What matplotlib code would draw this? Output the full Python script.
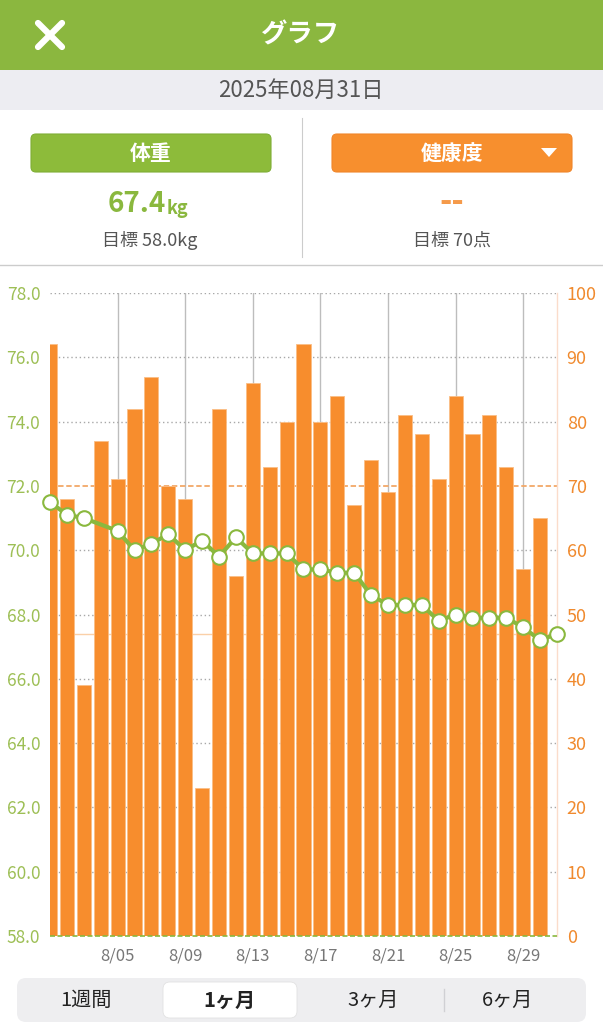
import matplotlib
matplotlib.use('Agg')
from matplotlib import pyplot as plt
from matplotlib.patches import FancyBboxPatch, Rectangle, Polygon
import numpy as np

plt.rcParams['font.family'] = ['Noto Sans CJK JP', 'DejaVu Sans']

W, H = 603, 1024

GREEN = '#8AB83E'
ORANGE = '#F78D2D'
GRAY_TXT = '#555555'

# health score bars, 8/01 .. 8/30
bar_days = list(range(1, 31))
health_score = [92, 68, 39, 77, 71, 82, 87, 70, 68, 23,
                82, 56, 86, 73, 80, 92, 80, 84, 67, 74,
                69, 81, 78, 71, 84, 78, 81, 73, 57, 65]

# weight points (no record on 8/04)
weight_days = [1, 2, 3] + list(range(5, 32))
weight_kg = [71.5, 71.1, 71.0, 70.6, 70.0, 70.2, 70.5, 70.0, 70.3, 69.8,
             70.4, 69.9, 69.9, 69.9, 69.4, 69.4, 69.3, 69.3, 68.6, 68.3,
             68.3, 68.3, 67.8, 68.0, 67.9, 67.9, 67.9, 67.6, 67.2, 67.4]

tick_days = [5, 9, 13, 17, 21, 25, 29]
tick_labels = ['8/05', '8/09', '8/13', '8/17', '8/21', '8/25', '8/29']

kg_ticks = np.arange(58.0, 78.1, 2.0)
score_ticks = np.arange(0, 101, 10)
kg_min, kg_max = 58.0, 78.0
score_target = 70
current_kg = 67.4
periods = ['1週間', '1ヶ月', '3ヶ月', '6ヶ月']

fig = plt.figure(figsize=(W / 100, H / 100), dpi=100)
fig.patch.set_facecolor('white')

# background / UI layer in pixel coords
bg = fig.add_axes([0, 0, 1, 1])
bg.set_xlim(0, W)
bg.set_ylim(H, 0)
bg.axis('off')

bg.add_patch(Rectangle((0, 0), W, 70, color='#8BB73F', lw=0))
bg.text(301, 35, 'グラフ', color='white', fontsize=19, fontweight='bold',
        ha='center', va='center')
bg.plot([38, 62], [23, 47], color='white', lw=4.5, solid_capstyle='round')
bg.plot([38, 62], [47, 23], color='white', lw=4.5, solid_capstyle='round')

bg.add_patch(Rectangle((0, 70), W, 40, color='#EDEDF2', lw=0))
bg.text(301, 90, '2025年08月31日', color=GRAY_TXT, fontsize=16,
        ha='center', va='center')

bg.plot([302, 302], [118, 257], color='#CCCCCC', lw=0.8)
bg.plot([0, W], [265, 265], color='#CCCCCC', lw=1)

bg.add_patch(FancyBboxPatch((31, 134), 240, 38, boxstyle='round,pad=0,rounding_size=5',
                            fc='#8DBB3A', ec='#7FAE35', lw=0.8))
bg.text(151, 153, '体重', color='white', fontsize=15, fontweight='bold',
        ha='center', va='center')
bg.add_patch(FancyBboxPatch((332, 134), 240, 38, boxstyle='round,pad=0,rounding_size=5',
                            fc='#F78F2E', ec='#F0862A', lw=0.8))
bg.text(452, 153, '健康度', color='white', fontsize=15, fontweight='bold',
        ha='center', va='center')
bg.add_patch(Polygon([[541, 148], [557, 148], [549, 157]], closed=True, color='white', lw=0))

bg.text(166, 204, f'{current_kg}', color=GREEN, fontsize=20, fontweight='bold',
        ha='right', va='center')
bg.text(167, 208, 'kg', color=GREEN, fontsize=13, fontweight='bold',
        ha='left', va='center')
bg.text(150, 241, '目標 58.0kg', color=GRAY_TXT, fontsize=13, ha='center', va='center')
bg.text(452, 203, '--', color='#F59A4A', fontsize=24, fontweight='bold',
        ha='center', va='center')
bg.text(452, 241, f'目標 {score_target}点', color=GRAY_TXT, fontsize=13,
        ha='center', va='center')

# segmented control
bg.add_patch(FancyBboxPatch((17, 978), 569, 44, boxstyle='round,pad=0,rounding_size=9',
                            fc='#EEEEF0', ec='none'))
bg.add_patch(FancyBboxPatch((163, 982), 134, 36, boxstyle='round,pad=0,rounding_size=7',
                            fc='white', ec='#E2E2E2', lw=0.6))
bg.plot([444, 444], [989, 1011], color='#D0D0D4', lw=1)
for px, lab in zip([86, 229, 373, 508], periods):
    bg.text(px, 1000, lab, color='#222222', fontsize=14.5,
            fontweight='bold' if lab == '1ヶ月' else 'normal',
            ha='center', va='center')

# chart
left, right, top, bottom = 50, 557, 293, 936
ax = fig.add_axes([left / W, 1 - bottom / H, (right - left) / W, (bottom - top) / H])
ax.set_facecolor('none')
ax.set_xlim(1, 31)
ax.set_ylim(0, 100)

for d in tick_days:
    ax.axvline(d, color='#BDBDBD', lw=1, zorder=0)
for s in score_ticks[1:]:
    if s == score_target:
        ax.axhline(s, color='#F2A868', lw=1.3, ls=(0, (3, 1.5)), zorder=0.5)
    else:
        ax.axhline(s, color='#A8A8A8', lw=1, ls=(0, (1, 2)), zorder=0.5)
ax.axhline((current_kg - kg_min) / (kg_max - kg_min) * 100, color='#FAD0A8', lw=1, zorder=0.5)

ax.bar(bar_days, health_score, width=0.83, color=ORANGE, edgecolor='#FBBE86',
       linewidth=0.6, zorder=2)
ax.axhline(0, color=GREEN, lw=1.2, ls=(0, (3, 1.5)), zorder=3, clip_on=False)

ax.set_xticks(tick_days)
ax.set_xticklabels(tick_labels)
ax.tick_params(axis='x', length=0, pad=8, labelsize=12, labelcolor='#777777')
for side in ['top', 'left', 'bottom']:
    ax.spines[side].set_visible(False)
ax.spines['right'].set_color('#FBDCCB')
ax.spines['right'].set_linewidth(1)

axw = ax.twinx()
axw.set_ylim(kg_min, kg_max)
axw.yaxis.tick_left()
axw.set_yticks(kg_ticks)
axw.set_yticklabels([f'{v:.1f}' for v in kg_ticks])
axw.tick_params(axis='y', length=0, pad=7, labelsize=12.5, labelcolor='#9DBF55')
for side in axw.spines:
    axw.spines[side].set_visible(False)
axw.plot(weight_days, weight_kg, color=GREEN, lw=3, marker='o', markersize=10.5,
         markerfacecolor='white', markeredgecolor=GREEN, markeredgewidth=1.5,
         clip_on=False, zorder=4)

# score ticks go on the right (after twinx, which resets sides)
ax.yaxis.tick_right()
ax.set_yticks(score_ticks)
ax.set_yticklabels([str(s) for s in score_ticks])
ax.tick_params(axis='y', length=0, pad=7, labelsize=13, labelcolor='#F08A2E')

fig.savefig('out.png', dpi=100)
